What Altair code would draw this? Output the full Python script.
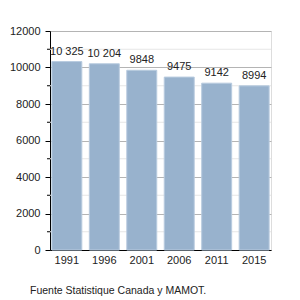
import altair as alt
import pandas as pd

years = ["1991", "1996", "2001", "2006", "2011", "2015"]
population = [10325, 10204, 9848, 9475, 9142, 8994]
labels = ["10 325", "10 204", "9848", "9475", "9142", "8994"]
major_ticks = [0, 2000, 4000, 6000, 8000, 10000, 12000]
minor_ticks = [1000, 3000, 5000, 7000, 9000, 11000]
caption = "Fuente Statistique Canada y MAMOT."

df = pd.DataFrame({"year": years, "pop": population, "label": labels})
minor_df = pd.DataFrame({"pop": minor_ticks})

FONT = "Liberation Sans"

yscale = alt.Scale(domain=[0, 12000], nice=False)
xscale = alt.Scale(paddingInner=0.2, paddingOuter=0.05)
xaxis = alt.Axis(labelAngle=0, labelFont=FONT, labelFontSize=11, labelColor="#222",
                 ticks=False, domainColor="#000", labelPadding=4)
yaxis = alt.Axis(values=major_ticks, labelOverlap=False, format="d",
                 labelFont=FONT, labelFontSize=11, labelColor="#222",
                 tickSize=5, tickColor="#000", domainColor="#000", labelPadding=5,
                 grid=True, gridColor="#b4b4b4")

Y = lambda: alt.Y("pop:Q", title=None, scale=yscale, axis=yaxis)
X = lambda: alt.X("year:N", title=None, sort=years, scale=xscale, axis=xaxis)

minor_grid = alt.Chart(minor_df).mark_rule(color="#e6e6e6", strokeWidth=1).encode(y=Y())
bars = alt.Chart(df).mark_bar(color="#98b2cd", stroke="#b8cbdf", strokeWidth=1).encode(x=X(), y=Y())
minor_tick = alt.Chart(minor_df).mark_rule(color="#000", strokeWidth=1).encode(
    y=Y(), x=alt.value(-3), x2=alt.value(0))
text = alt.Chart(df).mark_text(baseline="bottom", dy=-5, font=FONT, fontSize=11, color="#222").encode(
    x=X(), y=Y(), text="label:N")
cap = alt.Chart(pd.DataFrame({"t": [caption]})).mark_text(
    align="left", baseline="alphabetic", font=FONT, fontSize=10.5, color="#222").encode(
    x=alt.value(-20), y=alt.value(263), text="t:N")

chart = alt.layer(minor_grid, bars, minor_tick, text, cap).properties(
    width=221, height=219,
    autosize=alt.AutoSizeParams(type="none"),
    padding={"left": 50, "top": 31, "right": 29, "bottom": 50},
).configure_view(stroke=None).configure(background="white")

chart.save("out.html", embed_options={"renderer": "svg", "actions": False})
